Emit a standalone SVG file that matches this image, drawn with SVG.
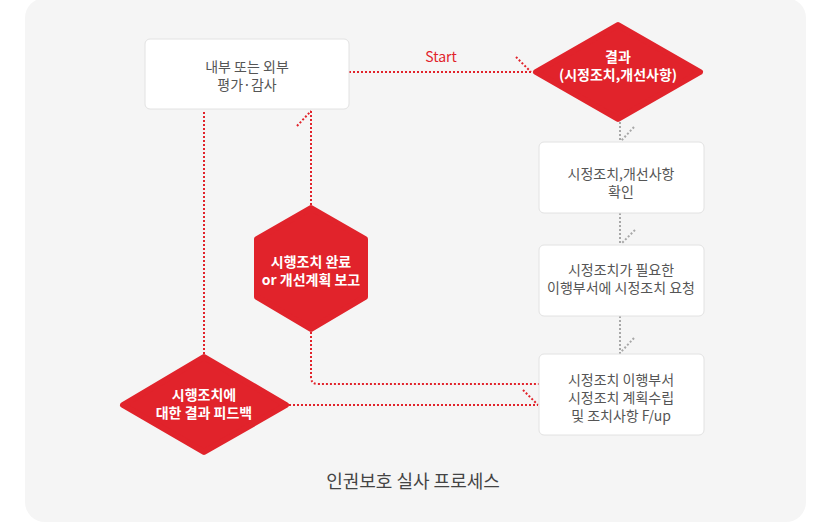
<svg xmlns="http://www.w3.org/2000/svg" width="832" height="525" viewBox="0 0 832 525">
<style>
.box{fill:#fff;stroke:#e2e2e2;stroke-width:1}
.red{fill:#e1232b;stroke:#e1232b;stroke-width:6;stroke-linejoin:round}
.t{font-family:"Noto Sans CJK KR","Noto Sans",sans-serif;font-size:14px;fill:#555;text-anchor:middle}
.w{font-family:"Noto Sans CJK KR","Noto Sans",sans-serif;font-size:14px;fill:#fff;font-weight:bold;text-anchor:middle}
.rl{fill:none;stroke:#e1232b;stroke-width:2;stroke-dasharray:2 2}
.gl{fill:none;stroke:#a8a8a8;stroke-width:2;stroke-dasharray:2 2}
</style>
<rect x="25" y="-2" width="781" height="524" rx="20" fill="#f5f5f5"/>
<g id="connectors">
<path class="rl" d="M349 72H531"/>
<path class="rl" d="M516 57L531 72"/>
<text x="441" y="62" font-family="Noto Sans CJK KR,Noto Sans,sans-serif" font-size="14" fill="#e1232b" text-anchor="middle">Start</text>
<path class="gl" d="M620 122V142"/>
<path class="gl" d="M634 127L621 141"/>
<path class="gl" d="M620 213V245"/>
<path class="gl" d="M635 230L621 244"/>
<path class="gl" d="M620 316V354"/>
<path class="gl" d="M634 338L621 352"/>
<path class="rl" d="M204 354V110"/>
<path class="rl" d="M311 205V111"/>
<path class="rl" d="M297 126L311 111"/>
<path class="rl" d="M311 332V377Q311 384 318 384H539"/>
<path class="rl" d="M289 405H538"/>
<path class="rl" d="M523 390L538 405"/>
</g>
<g id="n1">
<rect class="box" x="145" y="39" width="204" height="70" rx="5"/>
<text class="t" x="247" y="72">내부 또는 외부</text>
<text class="t" x="247" y="90">평가·감사</text>
</g>
<g id="n2">
<polygon class="red" points="536,72 618,25 700,72 618,119"/>
<text class="w" x="618" y="62">결과</text>
<text class="w" x="618" y="80">(시정조치,개선사항)</text>
</g>
<g id="n3">
<rect class="box" x="539" y="142" width="165" height="71" rx="5"/>
<text class="t" x="621" y="179">시정조치,개선사항</text>
<text class="t" x="621" y="197">확인</text>
</g>
<g id="n4">
<rect class="box" x="539" y="245" width="165" height="71" rx="5"/>
<text class="t" x="621" y="275">시정조치가 필요한</text>
<text class="t" x="621" y="293">이행부서에 시정조치 요청</text>
</g>
<g id="n5">
<rect class="box" x="539" y="354" width="165" height="81" rx="5"/>
<text class="t" x="621" y="385">시정조치 이행부서</text>
<text class="t" x="621" y="403">시정조치 계획수립</text>
<text class="t" x="621" y="421">및 조치사항 F/up</text>
</g>
<g id="n6">
<polygon class="red" points="311,208 365,239 365,297 311,329 257,297 257,239"/>
<text class="w" x="311" y="267">시행조치 완료</text>
<text class="w" x="311" y="285">or 개선계획 보고</text>
</g>
<g id="n7">
<polygon class="red" points="123,405 204,357 286,405 204,452"/>
<text class="w" x="204" y="400">시행조치에</text>
<text class="w" x="204" y="418">대한 결과 피드백</text>
</g>
<text x="413" y="488" font-family="Noto Sans CJK KR,Noto Sans,sans-serif" font-size="18" fill="#444" text-anchor="middle">인권보호 실사 프로세스</text>
</svg>
